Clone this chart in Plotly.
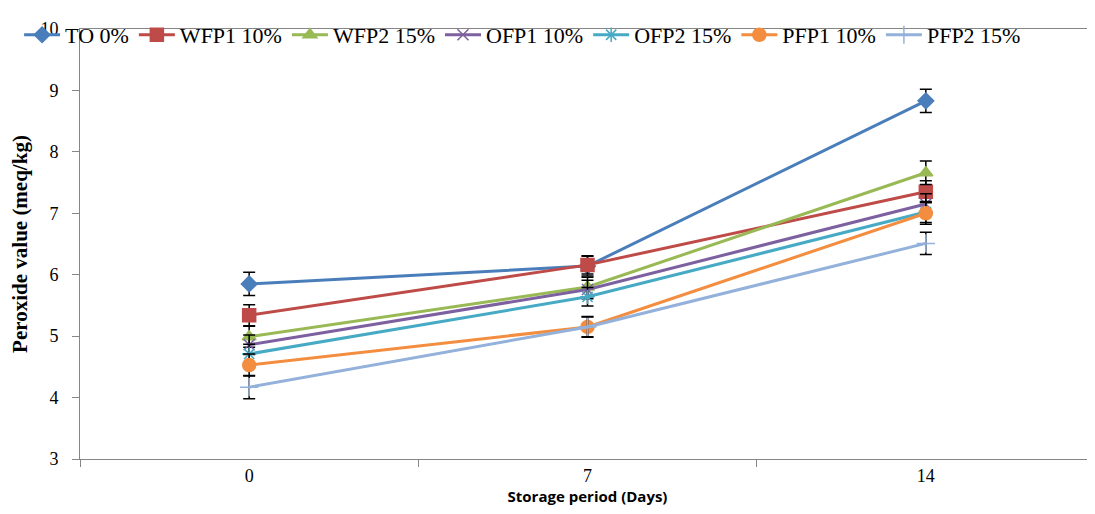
import plotly.graph_objects as go

categories = ["0", "7", "14"]
series_names = ["TO 0%", "WFP1 10%", "WFP2 15%", "OFP1 10%", "OFP2 15%", "PFP1 10%", "PFP2 15%"]
to_0 = [5.85, 6.14, 8.83]
wfp1_10 = [5.34, 6.16, 7.35]
wfp2_15 = [4.99, 5.80, 7.66]
ofp1_10 = [4.86, 5.76, 7.15]
ofp2_15 = [4.71, 5.64, 7.02]
pfp1_10 = [4.53, 5.15, 7.00]
pfp2_15 = [4.17, 5.15, 6.51]
err_to = [0.19, 0.16, 0.19]
err_wfp1 = [0.17, 0.15, 0.18]
err_wfp2 = [0.17, 0.16, 0.19]
err_ofp1 = [0.16, 0.15, 0.17]
err_ofp2 = [0.16, 0.15, 0.17]
err_pfp1 = [0.18, 0.16, 0.18]
err_pfp2 = [0.19, 0.17, 0.18]

values = [to_0, wfp1_10, wfp2_15, ofp1_10, ofp2_15, pfp1_10, pfp2_15]
errors = [err_to, err_wfp1, err_wfp2, err_ofp1, err_ofp2, err_pfp1, err_pfp2]
colors = ["#4A7EBB", "#BE4B48", "#98B954", "#7D60A0", "#46AAC5", "#F38D3F", "#93B1DA"]
symbols = ["diamond", "square", "triangle-up", "x-thin-open", "asterisk-open", "circle", "cross-thin-open"]
sizes = [12, 13, 12, 11, 12, 13, 13]

fig = go.Figure()
for name, v, e, c, s, sz in zip(series_names, values, errors, colors, symbols, sizes):
    fig.add_trace(go.Scatter(
        x=categories, y=v, name=name, mode="lines+markers",
        line=dict(color=c, width=3),
        marker=dict(symbol=s, size=sz, color=c, line=dict(color=c, width=1.5)),
        error_y=dict(type="data", array=e, visible=True, color="black", thickness=1.5, width=6),
    ))

fig.update_layout(
    width=1087, height=506,
    margin=dict(l=72, r=0, t=21, b=55, autoexpand=False),
    paper_bgcolor="white", plot_bgcolor="white",
    font=dict(family="Liberation Serif", size=18, color="black"),
    legend=dict(orientation="h", x=-0.06, xanchor="left", y=1.035, yanchor="top",
                font=dict(family="Liberation Serif", size=22), bgcolor="rgba(0,0,0,0)",
                itemwidth=36, tracegroupgap=0),
    xaxis=dict(type="category", range=[-0.5, 2.5], showgrid=False, showline=True,
               linecolor="#868686", linewidth=1, mirror=True, ticks="outside", tickson="boundaries",
               ticklen=7, tickcolor="#868686", automargin=False,
               tickfont=dict(family="Liberation Serif", size=18),
               title=dict(text="<b>Storage period (Days)</b>", standoff=6,
                          font=dict(family="Open Sans", size=15))),
    yaxis=dict(range=[3, 10], dtick=1, showgrid=False, showline=True, linecolor="#868686",
               linewidth=1, ticks="outside", ticklen=7, tickcolor="#868686", zeroline=False,
               automargin=False, ticklabelstandoff=10,
               tickfont=dict(family="Liberation Serif", size=18),
               title=dict(text="<b>Peroxide value (meq/kg)</b>", standoff=12,
                          font=dict(family="Liberation Serif", size=21))),
)

fig.write_html("out.html")
